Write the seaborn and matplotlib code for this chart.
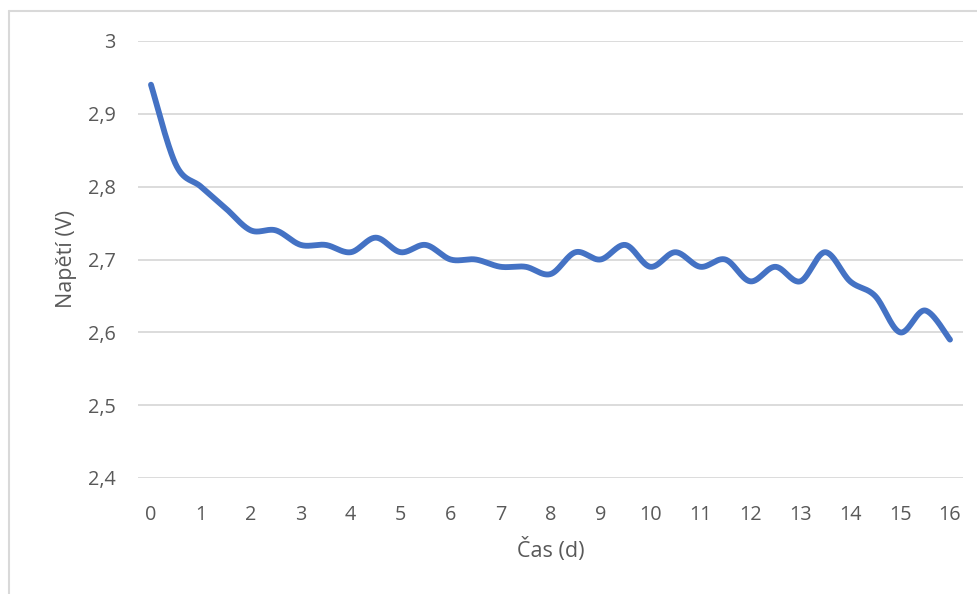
import numpy as np
import pandas as pd
import matplotlib
matplotlib.use("Agg")
import matplotlib.pyplot as plt
from matplotlib.lines import Line2D
import seaborn as sns

# Measured cell voltage, sampled every half day
days = [0, 0.5, 1, 1.5, 2, 2.5, 3, 3.5, 4, 4.5, 5, 5.5, 6, 6.5, 7, 7.5, 8,
        8.5, 9, 9.5, 10, 10.5, 11, 11.5, 12, 12.5, 13, 13.5, 14, 14.5, 15,
        15.5, 16]
voltage = [2.94, 2.83, 2.80, 2.77, 2.74, 2.74, 2.72, 2.72, 2.71, 2.73, 2.71,
           2.72, 2.70, 2.70, 2.69, 2.69, 2.68, 2.71, 2.70, 2.72, 2.69, 2.71,
           2.69, 2.70, 2.67, 2.69, 2.67, 2.71, 2.67, 2.65, 2.60, 2.63, 2.59]
x_ticks = list(range(0, 17))
y_ticks = [2.4, 2.5, 2.6, 2.7, 2.8, 2.9, 3.0]
y_labels = ["2,4", "2,5", "2,6", "2,7", "2,8", "2,9", "3"]


def smooth(x, y, n=30):
    """Catmull-Rom style smoothed path through every data point."""
    x = np.asarray(x, float)
    y = np.asarray(y, float)
    px = np.concatenate([[x[0]], x, [x[-1]]])
    py = np.concatenate([[y[0]], y, [y[-1]]])
    xs, ys = [], []
    t = np.linspace(0, 1, n, endpoint=False)
    for i in range(1, len(px) - 2):
        p0, p1, p2, p3 = px[i - 1], px[i], px[i + 1], px[i + 2]
        q0, q1, q2, q3 = py[i - 1], py[i], py[i + 1], py[i + 2]
        c1x, c1y = p1 + (p2 - p0) / 6, q1 + (q2 - q0) / 6
        c2x, c2y = p2 - (p3 - p1) / 6, q2 - (q3 - q1) / 6
        b0 = (1 - t) ** 3
        b1 = 3 * (1 - t) ** 2 * t
        b2 = 3 * (1 - t) * t ** 2
        b3 = t ** 3
        xs.append(b0 * p1 + b1 * c1x + b2 * c2x + b3 * p2)
        ys.append(b0 * q1 + b1 * c1y + b2 * c2y + b3 * q2)
    xs.append([x[-1]])
    ys.append([y[-1]])
    return np.concatenate(xs), np.concatenate(ys)


sns.set_theme(style="white")
plt.rcParams["font.family"] = ["Open Sans", "DejaVu Sans"]

sx, sy = smooth(days, voltage)
curve = pd.DataFrame({"Čas (d)": sx, "Napětí (V)": sy})

fig = plt.figure(figsize=(9.78, 5.94), dpi=100)
ax = fig.add_axes([138 / 978, 1 - 478 / 594, (963 - 138) / 978, (478 - 41) / 594])

sns.lineplot(data=curve, x="Čas (d)", y="Napětí (V)", ax=ax, color="#4472C4",
             linewidth=4.2, sort=False, estimator=None,
             solid_capstyle="round")

ax.set_xlim(-0.26, 16.26)
ax.set_ylim(2.4, 3.0)
ax.set_xticks(x_ticks)
ax.set_xticklabels([str(v) for v in x_ticks])
ax.set_yticks(y_ticks)
ax.set_yticklabels(y_labels)
ax.grid(axis="y", color="#d9d9d9", linewidth=1.3)
ax.grid(axis="x", visible=False)
ax.set_axisbelow(True)
for s in ax.spines.values():
    s.set_visible(False)
ax.tick_params(axis="both", length=0, labelsize=14.3, colors="#595959")
ax.tick_params(axis="x", pad=19.5)
ax.tick_params(axis="y", pad=16)
ax.set_xlabel("Čas (d)", fontsize=15.5, color="#595959", labelpad=9)
ax.set_ylabel("Napětí (V)", fontsize=15.5, color="#595959", labelpad=8)

# Light frame around the chart area
fig.add_artist(Line2D([9 / 978, 9 / 978], [0, 1 - 11 / 594],
                      transform=fig.transFigure, color="#d9d9d9", linewidth=1.5))
fig.add_artist(Line2D([9 / 978, 1], [1 - 11 / 594, 1 - 11 / 594],
                      transform=fig.transFigure, color="#d9d9d9", linewidth=1.5))

fig.savefig("out.png", dpi=100, facecolor="white")
